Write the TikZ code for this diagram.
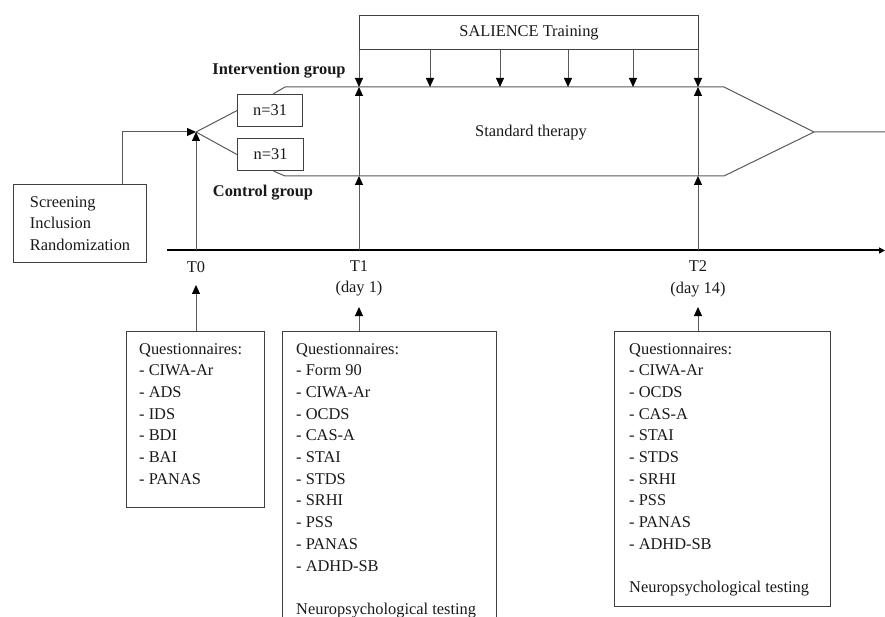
\documentclass[tikz,border=0pt]{standalone}
\usepackage{fontspec}
\setmainfont{Liberation Serif}
\usetikzlibrary{arrows.meta,calc}
\begin{document}
\begin{tikzpicture}[x=1pt,y=-1pt,
  every node/.style={font=\fontsize{16.4}{21.7}\selectfont, text=black!90, inner sep=0pt},
  ln/.style={draw=black!65, line width=1pt},
  box/.style={draw=black!75, line width=1.1pt},
  tip/.style={-{Triangle[length=9pt,width=8pt,fill=black,color=black]}},
  grp/.style={font=\fontsize{16.4}{21.7}\selectfont\bfseries},
]
\useasboundingbox (0,0) rectangle (885,617);

% training box
\node[box, anchor=north west, minimum width=339pt, minimum height=34pt] (train) at (359,15) {SALIENCE Training};

% group lines
\node[box, anchor=north west, minimum width=65pt, minimum height=32pt] (n1) at (237,94) {n=31};
\node[box, anchor=north west, minimum width=66pt, minimum height=32pt] (n2) at (237,138) {n=31};
\coordinate (iL) at (285,87);
\coordinate (iR) at (724,87);
\coordinate (cL) at (285,176);
\coordinate (cR) at (724,176);
\coordinate (merge) at (814,132);
\coordinate (out) at (885,132);
\draw[ln] ([xshift=3pt]n1.north) -- (iL) -- (iR) -- (merge) -- (out);
\draw[ln] ([xshift=3pt]n2.south) -- (cL) -- (cR) -- (merge);

\node[grp] (ig) at (279,71) {Intervention group};
\node[grp] (cg) at (263,193) {Control group};
\node (st) at (531,133) {Standard therapy};

% training arrows
\foreach \x/\n in {359/a,430/b,500/c,568/d,633/e,698/f}{
  \coordinate (tr\n) at (\x,87);
  \draw[ln,tip] (train.south -| tr\n) -- (tr\n);
}

% screening
\node[box, anchor=north west, minimum width=133pt, minimum height=78pt, align=left] (scr) at (13,184) {Screening\\Inclusion\\Randomization};
\coordinate (fork) at (196,132);
\draw[ln,tip] ([xshift=42.5pt]scr.north) |- (fork);
\draw[ln] (fork) -- (n1.west);
\draw[ln] (fork) -- (n2.west);

% timeline
\coordinate (tl0) at (167,250.5);
\coordinate (tl1) at (885,250.5);
\draw[black, line width=2pt, -{Triangle[length=6pt,width=6pt]}] (tl0) -- (tl1);

\coordinate (p0) at (196,250.5);
\coordinate (p1) at (359,250.5);
\coordinate (p2) at (698,250.5);
\coordinate (c1) at (359,176);
\coordinate (c2) at (698,176);
\draw[ln,tip] (p0) -- (fork);
\draw[ln,tip] (p1) -- (c1);
\draw[ln,tip] (c1) -- (tra);
\draw[ln,tip] (p2) -- (c2);
\draw[ln,tip] (c2) -- (trf);

% labels
\node (T0) at (196,267) {T0};
\node[align=center] (T1) at (359,278.5) {T1\\(day 1)};
\node[align=center] (T2) at (698,278.5) {T2\\(day 14)};

% questionnaire boxes
\node[box, anchor=north west, minimum width=138pt, minimum height=176pt] (q0) at (126,331) {};
\node[anchor=north west, align=left] (q0t) at (139,343) {Questionnaires:\\- CIWA-Ar\\- ADS\\- IDS\\- BDI\\- BAI\\- PANAS};

\node[box, anchor=north west, minimum width=214pt, minimum height=310pt] (q1) at (282,331) {};
\node[anchor=north west, align=left] (q1t) at (296,343) {Questionnaires:\\- Form 90\\- CIWA-Ar\\- OCDS\\- CAS-A\\- STAI\\- STDS\\- SRHI\\- PSS\\- PANAS\\- ADHD-SB\\[21.7pt]Neuropsychological testing};

\node[box, anchor=north west, minimum width=216pt, minimum height=275pt] (q2) at (614,331) {};
\node[anchor=north west, align=left] (q2t) at (629,343) {Questionnaires:\\- CIWA-Ar\\- OCDS\\- CAS-A\\- STAI\\- STDS\\- SRHI\\- PSS\\- PANAS\\- ADHD-SB\\[21.7pt]Neuropsychological testing};

\coordinate (a0) at (196,285);
\coordinate (a1) at (359,307);
\coordinate (a2) at (698,307);
\draw[ln,tip] (q0.north -| a0) -- (a0);
\draw[ln,tip] (q1.north -| a1) -- (a1);
\draw[ln,tip] (q2.north -| a2) -- (a2);
\end{tikzpicture}
\end{document}
